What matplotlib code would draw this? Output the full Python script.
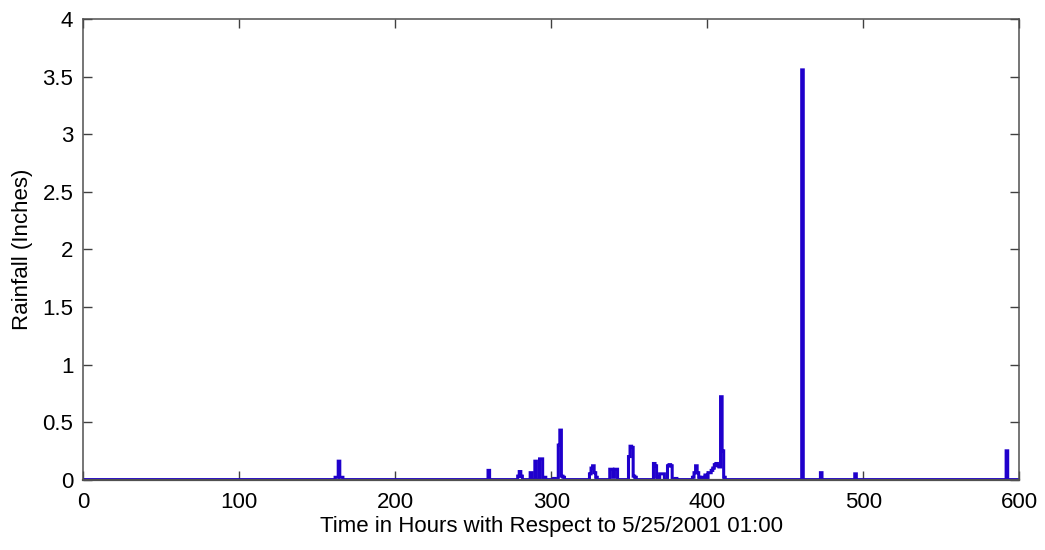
import numpy as np
import matplotlib
matplotlib.use('Agg')
import matplotlib.pyplot as plt

# hourly rainfall, hours with respect to 5/25/2001 01:00 (zero elsewhere)
rain_hours = [162, 163, 164, 165, 166,
              260,
              279, 280, 281, 287, 290, 293, 294, 296,
              302, 305, 306, 307, 308,
              325, 326, 327, 328, 329,
              338, 339, 340, 341, 342,
              350, 351, 352, 353, 354,
              366, 367, 368, 370, 371, 372, 375, 376, 377, 380,
              391, 392, 393, 394, 395,
              397, 399, 401, 402, 403, 404, 405, 406, 407, 408, 409, 410, 411,
              461, 473, 495, 592]
rain_inches = [0.02, 0.02, 0.16, 0.02, 0.02,
               0.08,
               0.03, 0.07, 0.03, 0.06, 0.16, 0.18, 0.18, 0.02,
               0.01, 0.30, 0.43, 0.03, 0.02,
               0.05, 0.10, 0.12, 0.06, 0.02,
               0.09, 0.09, 0.02, 0.09, 0.09,
               0.20, 0.29, 0.28, 0.03, 0.02,
               0.14, 0.12, 0.02, 0.05, 0.05, 0.05, 0.12, 0.13, 0.12, 0.01,
               0.02, 0.06, 0.12, 0.06, 0.02,
               0.02, 0.04, 0.06, 0.06, 0.08, 0.10, 0.13, 0.14, 0.12, 0.11, 0.72, 0.25, 0.02,
               3.56, 0.06, 0.05, 0.25]
n_hours = 600

hours = np.arange(n_hours + 1)
rain = np.zeros(n_hours + 1)
rain[rain_hours] = rain_inches

plt.rcParams['font.family'] = ['Liberation Sans', 'DejaVu Sans']

fig = plt.figure(figsize=(10.45, 5.5), dpi=100)
ax = fig.add_axes([0.0795, 0.128, 0.896, 0.837])

ax.plot(hours, rain, color='#1f00cc', linewidth=2.2, drawstyle='steps-mid',
        solid_joinstyle='miter')

ax.set_xlim(0, 600)
ax.set_ylim(0, 4)
ax.set_xticks(np.arange(0, 601, 100))
ax.set_yticks(np.arange(0, 4.01, 0.5))
ax.set_yticklabels(['0', '0.5', '1', '1.5', '2', '2.5', '3', '3.5', '4'])

ax.tick_params(direction='in', length=6.5, width=1, color='#404040',
               top=True, right=True, labelsize=16, pad=7)
ax.tick_params(axis='x', pad=9)
for sp in ax.spines.values():
    sp.set_color('#505050')
    sp.set_linewidth(1.1)
ax.spines['bottom'].set_linewidth(1.6)
ax.spines['bottom'].set_zorder(3)

ax.set_xlabel('Time in Hours with Respect to 5/25/2001 01:00', fontsize=16, labelpad=2)
ax.set_ylabel('Rainfall (Inches)', fontsize=16, labelpad=7)

fig.savefig('out.png', dpi=100)
